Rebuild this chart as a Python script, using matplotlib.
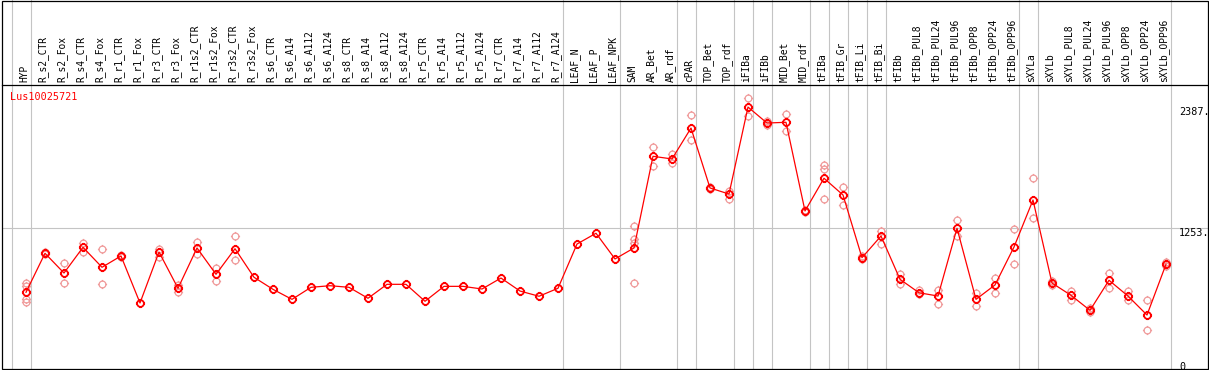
import matplotlib
matplotlib.use("Agg")
import matplotlib.pyplot as plt
from matplotlib.path import Path
from matplotlib.patches import Rectangle
from matplotlib.lines import Line2D
import matplotlib.transforms as mtransforms
import numpy as np

gene = "Lus10025721"

categories = [
    "HYP", "R_s2_CTR", "R_s2_Fox", "R_s4_CTR", "R_s4_Fox", "R_r1_CTR", "R_r1_Fox",
    "R_r3_CTR", "R_r3_Fox", "R_r1s2_CTR", "R_r1s2_Fox", "R_r3s2_CTR", "R_r3s2_Fox",
    "R_s6_CTR", "R_s6_A14", "R_s6_A112", "R_s6_A124", "R_s8_CTR", "R_s8_A14",
    "R_s8_A112", "R_s8_A124", "R_r5_CTR", "R_r5_A14", "R_r5_A112", "R_r5_A124",
    "R_r7_CTR", "R_r7_A14", "R_r7_A112", "R_r7_A124", "LEAF_N", "LEAF_P", "LEAF_NPK",
    "SAM", "AR_Bet", "AR_rdf", "cPAR", "TOP_Bet", "TOP_rdf", "iFIBa", "iFIBb",
    "MID_Bet", "MID_rdf", "tFIBa", "tFIB_Gr", "tFIB_Li", "tFIB_Bi", "tFIBb",
    "tFIBb_PUL8", "tFIBb_PUL24", "tFIBb_PUL96", "tFIBb_OPP8", "tFIBb_OPP24",
    "tFIBb_OPP96", "sXYLa", "sXYLb", "sXYLb_PUL8", "sXYLb_PUL24", "sXYLb_PUL96",
    "sXYLb_OPP8", "sXYLb_OPP24", "sXYLb_OPP96",
]

mean_values = [
    649, 1015, 830, 1071, 884, 990, 549, 1027, 687, 1065, 818, 1058, 790,
    677, 583, 696, 711, 696, 593, 724, 724, 565, 705, 705, 680, 783, 661, 612, 687,
    1102, 1203, 962, 1065, 1925, 1900, 2190, 1628, 1571, 2387, 2237, 2244, 1412,
    1719, 1562, 974, 1177, 771, 645, 614, 1250, 583, 718, 1074, 1515, 736, 621,
    480, 762, 614, 436, 912,
]

replicates = [
    [734, 708, 586, 561], [1005, 1025], [921, 734], [1112, 1027], [1053, 724],
    [980, 1000], [], [1058, 983], [715, 652], [1118, 1006], [877, 752], [1174, 949],
    [], [], [], [], [], [], [], [], [], [], [], [], [], [], [], [], [],
    [], [], [], [1271, 1146, 1109, 739], [2015, 1831], [1944, 1862], [2312, 2078],
    [1640, 1615], [1602, 1527], [2469, 2306], [2259, 2219], [2325, 2165], [1425, 1400],
    [1841, 1809, 1524], [1634, 1468], [992, 959], [1227, 1099], [821, 727],
    [671, 633], [674, 542], [1327, 1180], [640, 518], [783, 640], [1243, 912],
    [1721, 1346], [755, 718], [664, 574], [502, 464], [833, 690], [659, 580],
    [574, 293], [936, 896],
]

group_ends = [-1, 0, 28, 31, 34, 35, 37, 38, 39, 41, 42, 43, 44, 45, 52, 53, 60]
y_ticks = [2387, 1253, 0]
y_tick_labels = ["2387.", "1253.", "0"]

W, H = 1209, 370
fig = plt.figure(figsize=(W / 100, H / 100), dpi=100)

def px_x(p):
    return p / W

def px_y(p):  # p measured from top
    return 1 - p / H

ax_left, ax_right, ax_top, ax_bot = 1.5, 1207.5, 85.0, 369.0
ax = fig.add_axes([px_x(ax_left), px_y(ax_bot), (ax_right - ax_left) / W, (ax_bot - ax_top) / H])
for s in ax.spines.values():
    s.set_visible(False)
ax.set_xticks([])
ax.set_yticks([])

# pixel mapping: point i at x=26+19i ; value v at y=361.5-0.1066 v
x0, dx = 26.0, 19.0
y0, k = 361.5, 0.1066
ax.set_xlim((ax_left - x0) / dx, (ax_right - x0) / dx)
ax.set_ylim((y0 - ax_bot) / k, (y0 - ax_top) / k)

grey = "#c4c4c4"
ax_h = ax_bot - ax_top
for g in group_ends:
    ax.axvline(g + 0.24, ymin=0, ymax=(ax_bot - 0.5) / ax_h, color=grey, lw=0.8,
               clip_on=False, zorder=1)
ax.axhline(1253, color=grey, lw=0.8, zorder=1)

# custom marker: circle with 4 small ticks
theta = np.linspace(0, 2 * np.pi, 33)
circ_verts = list(zip(np.cos(theta), np.sin(theta)))
circ_codes = [Path.MOVETO] + [Path.LINETO] * (len(circ_verts) - 1)
tick_verts, tick_codes = [], []
for (a, b) in [(1, 0), (-1, 0), (0, 1), (0, -1)]:
    tick_verts += [(a * 1.0, b * 1.0), (a * 1.35, b * 1.35)]
    tick_codes += [Path.MOVETO, Path.LINETO]
marker_path = Path(circ_verts + tick_verts, circ_codes + tick_codes)

n = len(categories)
xs = np.arange(n)
rx, ry = [], []
for i, reps in enumerate(replicates):
    for r in reps:
        rx.append(i)
        ry.append(r)
ax.plot(rx, ry, linestyle="none", marker=marker_path, markersize=6.6,
        markerfacecolor="none", markeredgecolor="#f09a9a", markeredgewidth=0.9, zorder=2)
ax.plot(xs, mean_values, color="#ff0000", lw=0.9, zorder=3)
ax.plot(xs, mean_values, linestyle="none", marker=marker_path, markersize=6.6,
        markerfacecolor="none", markeredgecolor="#ff0000", markeredgewidth=1.3, zorder=4)

mono = "DejaVu Sans Mono"
lab_tr = mtransforms.offset_copy(ax.get_xaxis_transform(), fig=fig, x=-2, y=0, units="dots")
for i, c in enumerate(categories):
    ax.text(i, 1 + 2.5 / ax_h, c, transform=lab_tr, rotation=90, ha="center", va="bottom",
            fontsize=6.9, family=mono, color="black", clip_on=False)

for v, t in zip(y_ticks, y_tick_labels):
    ax.text((1179 - x0) / dx, v, t, ha="left", va="top", fontsize=7.3, family=mono,
            color="black", zorder=5)

ax.text((10 - x0) / dx, (y0 - 92) / k, gene, ha="left", va="top", fontsize=7.3,
        family=mono, color="#ff0000", zorder=5)

# frame and header separator
fig.add_artist(Rectangle((px_x(ax_left), px_y(ax_bot)), (ax_right - ax_left) / W,
                         (ax_bot - 0.5) / H, transform=fig.transFigure, fill=False,
                         edgecolor="black", lw=0.9))
fig.add_artist(Line2D([px_x(ax_left), px_x(ax_right)], [px_y(ax_top), px_y(ax_top)],
                      transform=fig.transFigure, color="black", lw=0.9))

fig.savefig("out.png", dpi=100)
